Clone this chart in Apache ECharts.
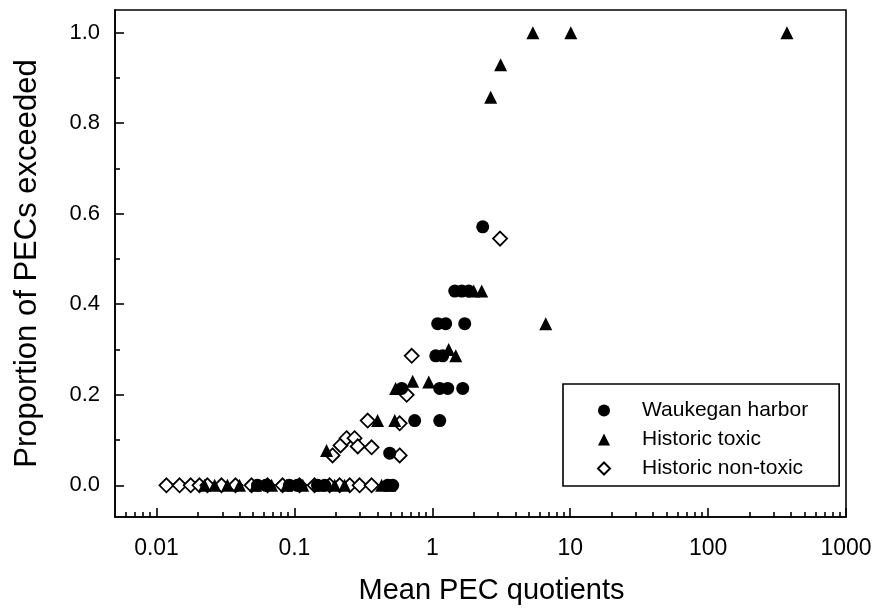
<!DOCTYPE html>
<html>
<head>
<meta charset="utf-8">
<script src="https://cdn.jsdelivr.net/npm/echarts@6/dist/echarts.min.js"></script>
<style>
  html, body { margin: 0; padding: 0; background: #fff; }
  #chart { width: 881px; height: 610px; }
</style>
</head>
<body>
<div id="chart"></div>
<script>
// 数据 - 读自原图
const waukeganX = [0.054, 0.062, 0.092, 0.105, 0.147, 0.166, 0.474, 0.516,
  0.491, 0.745, 1.132, 0.600, 1.132, 1.294, 1.662, 1.059, 1.189,
  1.094, 1.25, 1.718, 1.455, 1.635, 1.837, 2.32];
const waukeganY = [0, 0, 0, 0, 0, 0, 0, 0,
  0.071, 0.143, 0.143, 0.214, 0.214, 0.214, 0.214, 0.286, 0.286,
  0.357, 0.357, 0.357, 0.429, 0.429, 0.429, 0.571];

const toxicX = [0.0223, 0.0264, 0.0327, 0.040, 0.0523, 0.0683, 0.0878, 0.115, 0.152, 0.196, 0.231, 0.429, 0.491,
  0.171, 0.401, 0.534, 0.542, 0.721, 0.942, 1.315, 1.479, 6.65, 1.995, 2.28,
  2.65, 3.13, 5.36, 10.1, 373];
const toxicY = [0, 0, 0, 0, 0, 0, 0, 0, 0, 0, 0, 0, 0,
  0.077, 0.143, 0.143, 0.214, 0.23, 0.228, 0.30, 0.286, 0.357, 0.429, 0.429,
  0.857, 0.929, 1.0, 1.0, 1.0];

const nontoxicX = [0.0118, 0.0147, 0.0177, 0.0205, 0.0234, 0.0296, 0.0374, 0.0489, 0.0639, 0.0821,
  0.109, 0.140, 0.180, 0.213, 0.252, 0.297, 0.363,
  0.189, 0.216, 0.239, 0.273, 0.288, 0.363, 0.580,
  0.340, 0.580, 0.652, 0.709, 3.1];
const nontoxicY = [0, 0, 0, 0, 0, 0, 0, 0, 0, 0,
  0, 0, 0, 0, 0, 0, 0,
  0.066, 0.088, 0.104, 0.104, 0.086, 0.084, 0.066,
  0.143, 0.137, 0.20, 0.286, 0.545];

// 刻度
const xMajorTicks = [0.01, 0.1, 1, 10, 100, 1000];
const xMinorTicks = [0.006, 0.007, 0.008, 0.009,
  0.02, 0.03, 0.04, 0.05, 0.06, 0.07, 0.08, 0.09,
  0.2, 0.3, 0.4, 0.5, 0.6, 0.7, 0.8, 0.9,
  2, 3, 4, 5, 6, 7, 8, 9,
  20, 30, 40, 50, 60, 70, 80, 90,
  200, 300, 400, 500, 600, 700, 800, 900];
const yMajorTicks = [0, 0.2, 0.4, 0.6, 0.8, 1.0];
const yMinorTicks = [0.1, 0.3, 0.5, 0.7, 0.9];

const zip = (xs, ys) => xs.map((x, i) => [x, ys[i]]);

const FONT = '"Liberation Sans", Arial, sans-serif';
const lineStyle = { color: '#000', width: 1.6 };

const chart = echarts.init(document.getElementById('chart'));

chart.setOption({
  backgroundColor: '#fff',
  animation: false,
  textStyle: { fontFamily: FONT },
  grid: {
    left: 115, right: 35, top: 10, bottom: 92,
    show: true, borderColor: '#000', borderWidth: 1.6
  },
  legend: {
    orient: 'vertical',
    left: 563, top: 384,
    borderColor: '#000', borderWidth: 1.6,
    padding: [16, 31, 7, 34],
    itemWidth: 12, itemHeight: 12, itemGap: 8,
    textStyle: { fontSize: 21, color: '#000', fontFamily: FONT, lineHeight: 20, padding: [0, 0, 0, 27] },
    data: ['Waukegan harbor', 'Historic toxic', 'Historic non-toxic']
  },
  xAxis: [{
    type: 'log', min: 0.005, max: 1000,
    name: 'Mean PEC quotients', nameLocation: 'middle', nameGap: 59,
    nameTextStyle: { fontSize: 29, color: '#000', fontFamily: FONT, padding: [0, 0, 0, 22] },
    axisLine: { onZero: false, lineStyle },
    axisTick: { inside: true, length: 9, lineStyle, customValues: xMajorTicks },
    axisLabel: { fontSize: 23, color: '#000', margin: 20, customValues: xMajorTicks,
      formatter: v => String(v) },
    splitLine: { show: false }, minorTick: { show: false }
  }, {
    type: 'log', min: 0.005, max: 1000, position: 'bottom',
    axisLine: { show: false, onZero: false },
    axisTick: { inside: true, length: 5, lineStyle, customValues: xMinorTicks },
    axisLabel: { show: false }, splitLine: { show: false }
  }],
  yAxis: [{
    type: 'value', min: -0.07, max: 1.05,
    name: 'Proportion of PECs exceeded', nameLocation: 'middle', nameGap: 72,
    nameTextStyle: { fontSize: 31, color: '#000', fontFamily: FONT },
    axisLine: { lineStyle },
    axisTick: { inside: true, length: 9, lineStyle, customValues: yMajorTicks },
    axisLabel: { fontSize: 22, color: '#000', margin: 15, customValues: yMajorTicks,
      formatter: v => v.toFixed(1) },
    splitLine: { show: false }
  }, {
    type: 'value', min: -0.07, max: 1.05, position: 'left',
    axisLine: { show: false },
    axisTick: { inside: true, length: 5, lineStyle, customValues: yMinorTicks },
    axisLabel: { show: false }, splitLine: { show: false }
  }],
  series: [{
    name: 'Historic non-toxic', type: 'scatter', symbol: 'diamond', symbolSize: 14,
    itemStyle: { color: '#fff', borderColor: '#000', borderWidth: 1.8, opacity: 1 },
    data: zip(nontoxicX, nontoxicY)
  }, {
    name: 'Historic toxic', type: 'scatter', symbol: 'triangle', symbolSize: 13,
    itemStyle: { color: '#000', opacity: 1 },
    data: zip(toxicX, toxicY)
  }, {
    name: 'Waukegan harbor', type: 'scatter', symbol: 'circle', symbolSize: 13,
    itemStyle: { color: '#000', opacity: 1 },
    data: zip(waukeganX, waukeganY)
  }]
});
</script>
</body>
</html>
